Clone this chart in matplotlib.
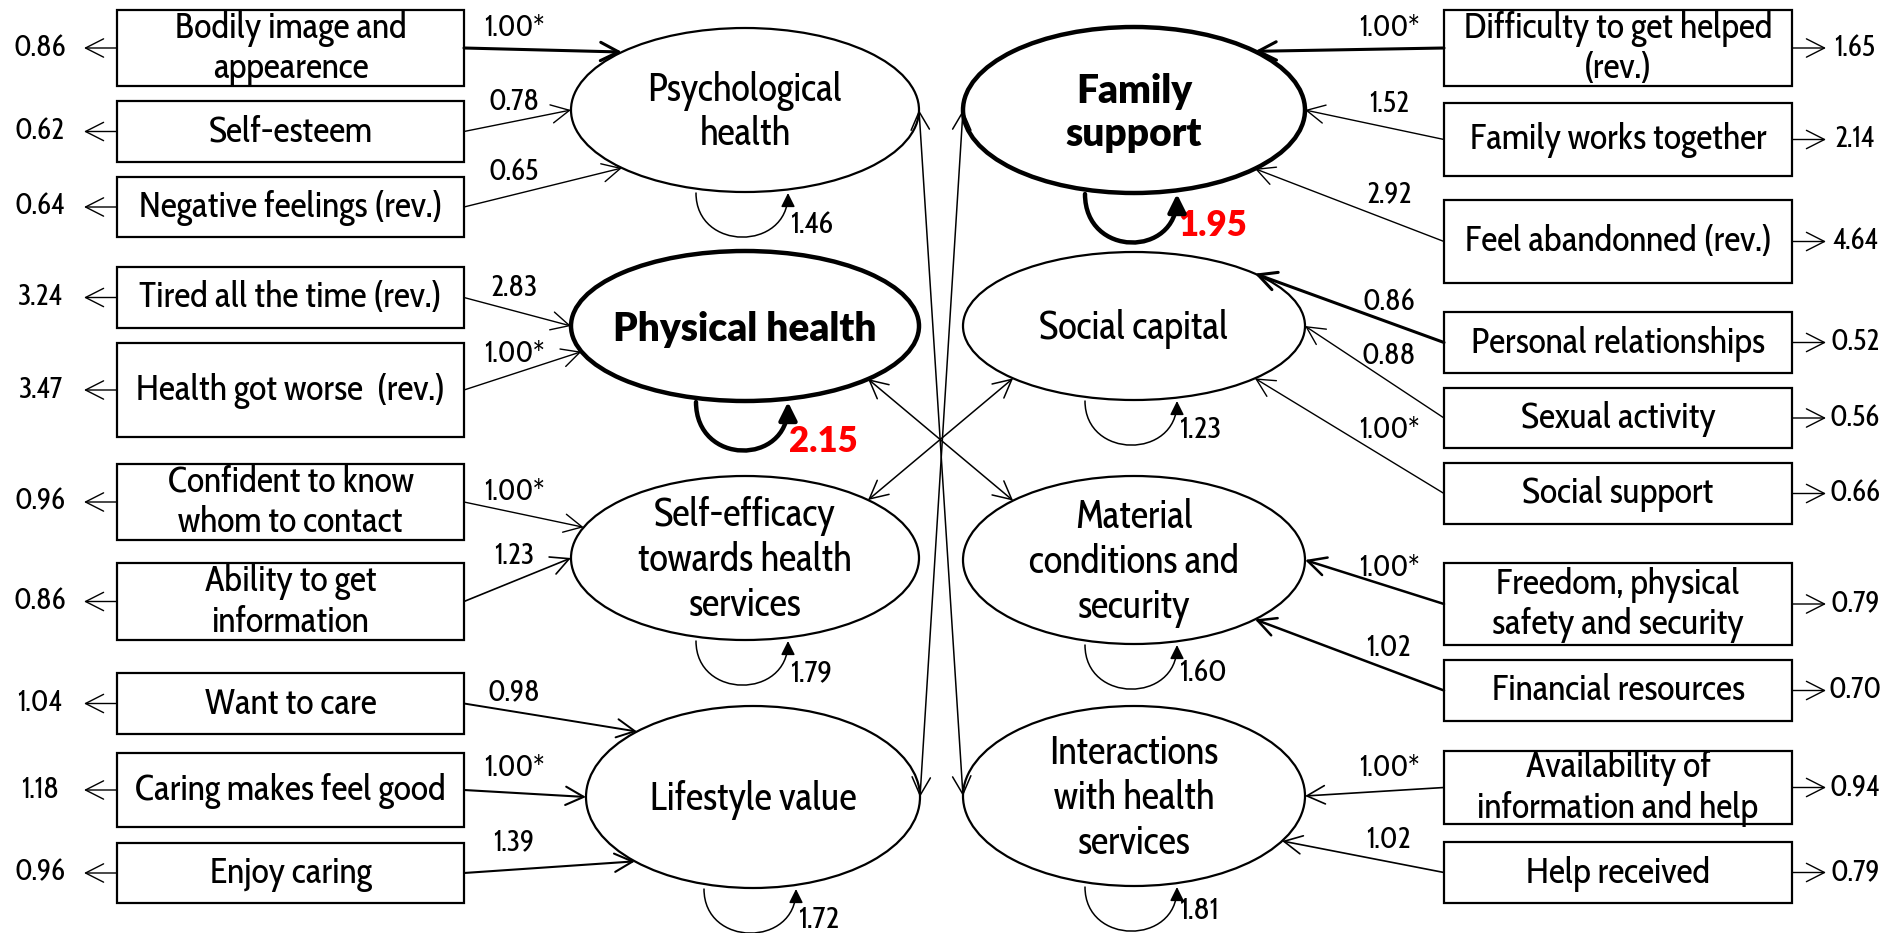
import numpy as np
import matplotlib.pyplot as plt
from matplotlib.patches import Ellipse, Rectangle, FancyArrowPatch
from matplotlib.path import Path

plt.rcParams['font.family'] = ['Cabin Condensed', 'Cabin', 'Alegreya Sans', 'DejaVu Sans']
BOLD = ['Lato', 'DejaVu Sans']

# ---- model values ----
left_factors = ["Psychological\nhealth", "Physical health",
                "Self-efficacy\ntowards health\nservices", "Lifestyle value"]
left_factor_var = ["1.46", "2.15", "1.79", "1.72"]
left_items = ["Bodily image and\nappearence", "Self-esteem", "Negative feelings (rev.)",
              "Tired all the time (rev.)", "Health got worse  (rev.)",
              "Confident to know\nwhom to contact", "Ability to get\ninformation",
              "Want to care", "Caring makes feel good", "Enjoy caring"]
left_loadings = ["1.00*", "0.78", "0.65", "2.83", "1.00*", "1.00*", "1.23", "0.98", "1.00*", "1.39"]
left_resid = ["0.86", "0.62", "0.64", "3.24", "3.47", "0.96", "0.86", "1.04", "1.18", "0.96"]
left_item_factor = [0, 0, 0, 1, 1, 2, 2, 3, 3, 3]

right_factors = ["Family\nsupport", "Social capital",
                 "Material\nconditions and\nsecurity", "Interactions\nwith health\nservices"]
right_factor_var = ["1.95", "1.23", "1.60", "1.81"]
right_items = ["Difficulty to get helped\n(rev.)", "Family works together", "Feel abandonned (rev.)",
               "Personal relationships", "Sexual activity", "Social support",
               "Freedom, physical\nsafety and security", "Financial resources",
               "Availability of\ninformation and help", "Help received"]
right_loadings = ["1.00*", "1.52", "2.92", "0.86", "0.88", "1.00*", "1.00*", "1.02", "1.00*", "1.02"]
right_resid = ["1.65", "2.14", "4.64", "0.52", "0.56", "0.66", "0.79", "0.70", "0.94", "0.79"]
right_item_factor = [0, 0, 0, 1, 1, 1, 2, 2, 3, 3]

highlight_left = [False, True, False, False]
highlight_right = [True, False, False, False]

# covariances: (left factor, right factor)
covs = [(0, 3), (3, 0), (1, 2), (2, 1)]

# ---- layout (pixels, y down) ----
left_ell = [(745, 110, 174, 82), (745, 326, 174, 75), (745, 558, 174, 82), (753, 797, 167, 91)]
right_ell = [(1134, 110, 171, 83), (1134, 326, 171, 74), (1134, 560, 171, 84), (1134, 796, 171, 90)]
left_box_x = (117, 464)
right_box_x = (1444, 1792)
left_box_y = [(10, 86), (101, 162), (177, 237), (267, 328), (343, 437),
              (464, 540), (563, 640), (673, 734), (753, 827), (843, 903)]
right_box_y = [(10, 86), (103, 176), (200, 283), (312, 373), (388, 448),
               (463, 524), (563, 645), (660, 721), (751, 824), (842, 903)]
left_ang = [225, 180, 135, 180, 160, 202, 180, 226, 180, 135]
right_ang = [-45, 0, 45, -45, 0, 45, 0, 45, 0, 30]
left_lw = [2.2, 1.0, 1.0, 1.0, 1.0, 1.0, 1.2, 1.4, 1.5, 1.5]
right_lw = [2.2, 1.0, 1.0, 2.2, 1.0, 1.0, 1.8, 1.8, 1.2, 1.2]
left_lab_y = [28, 103, 172, 288, 355, 492, 557, 693, 768, 843]
right_lab_y = [28, 105, 195, 302, 357, 430, 568, 648, 768, 840]
left_var_y = [225, 442, 673, 920]
right_var_y = [225, 430, 673, 911]
cov_ang = {(0, 3): (0, 180), (3, 0): (0, 180), (1, 2): (45, 225), (2, 1): (-45, 135)}

fig = plt.figure(figsize=(18.99, 9.33), dpi=100)
ax = fig.add_axes([0, 0, 1, 1])
ax.set_xlim(0, 1899)
ax.set_ylim(933, 0)
ax.axis('off')


def ell_pt(e, ang):
    cx, cy, a, b = e
    t = np.radians(ang)
    return cx + a * np.cos(t), cy + b * np.sin(t)


def arrow(p0, p1, lw=1.0, style='->'):
    ax.add_patch(FancyArrowPatch(p0, p1, arrowstyle=f"{style},head_length=0.65,head_width=0.33",
                                 mutation_scale=20, lw=lw, color='black',
                                 shrinkA=0, shrinkB=0, zorder=3))


def loop(cx, y0, bold):
    x1, x2 = cx - 47, cx + 45
    d = 44 if not bold else 48
    verts = [(x1, y0), (x1, y0 + d * 1.33), (x2, y0 + d * 1.33), (x2, y0)]
    path = Path(verts, [Path.MOVETO, Path.CURVE4, Path.CURVE4, Path.CURVE4])
    ax.add_patch(FancyArrowPatch(path=path,
                                 arrowstyle='-|>,head_length=0.6,head_width=0.3',
                                 mutation_scale=18 if bold else 14,
                                 lw=3.2 if bold else 1.1, color='black', zorder=3))


def draw_side(factors, fvar, items, loads, resid, item_fac, ells, box_x, box_y,
              angs, lws, lab_y, var_y, hl, side):
    for k, e in enumerate(ells):
        cx, cy, a, b = e
        ax.add_patch(Ellipse((cx, cy), 2 * a, 2 * b, fill=False,
                             lw=3.2 if hl[k] else 1.6, ec='black', zorder=2))
        if hl[k]:
            ax.text(cx, cy + 3, factors[k], ha='center', va='center', fontsize=28,
                    linespacing=1.2, fontweight='heavy', family=BOLD)
            ax.text(cx + 44, var_y[k], fvar[k], ha='left', va='center', fontsize=25,
                    color='red', fontweight='heavy', family=BOLD)
        else:
            ax.text(cx, cy + 3, factors[k], ha='center', va='center', fontsize=28,
                    linespacing=1.15)
            ax.text(cx + 45, var_y[k], fvar[k], ha='left', va='center', fontsize=22)
        loop(cx - 2, cy + b + 1, hl[k])

    x0, x1 = box_x
    for i, item in enumerate(items):
        y0, y1 = box_y[i]
        ym = (y0 + y1) / 2
        ax.add_patch(Rectangle((x0, y0), x1 - x0, y1 - y0, fill=False, lw=1.6,
                               ec='black', zorder=2))
        ax.text((x0 + x1) / 2, ym + 1, item, ha='center', va='center', fontsize=26,
                linespacing=1.15)
        e = ells[item_fac[i]]
        if side == 'L':
            arrow((x1, ym), ell_pt(e, angs[i]), lw=lws[i])
            arrow((x0, ym), (x0 - 33, ym), lw=1.0)
            ax.text(40, ym, resid[i], ha='center', va='center', fontsize=21)
            ax.text(514, lab_y[i], loads[i], ha='center', va='center', fontsize=21)
        else:
            arrow((x0, ym), ell_pt(e, angs[i]), lw=lws[i])
            arrow((x1, ym), (x1 + 34, ym), lw=1.0)
            ax.text(1855, ym, resid[i], ha='center', va='center', fontsize=21)
            ax.text(1389, lab_y[i], loads[i], ha='center', va='center', fontsize=21)


draw_side(left_factors, left_factor_var, left_items, left_loadings, left_resid,
          left_item_factor, left_ell, left_box_x, left_box_y, left_ang, left_lw,
          left_lab_y, left_var_y, highlight_left, 'L')
draw_side(right_factors, right_factor_var, right_items, right_loadings, right_resid,
          right_item_factor, right_ell, right_box_x, right_box_y, right_ang, right_lw,
          right_lab_y, right_var_y, highlight_right, 'R')

for li, ri in covs:
    a0, a1 = cov_ang[(li, ri)]
    arrow(ell_pt(left_ell[li], a0), ell_pt(right_ell[ri], a1), lw=1.1, style='<->')

fig.savefig('out.png', dpi=100)
